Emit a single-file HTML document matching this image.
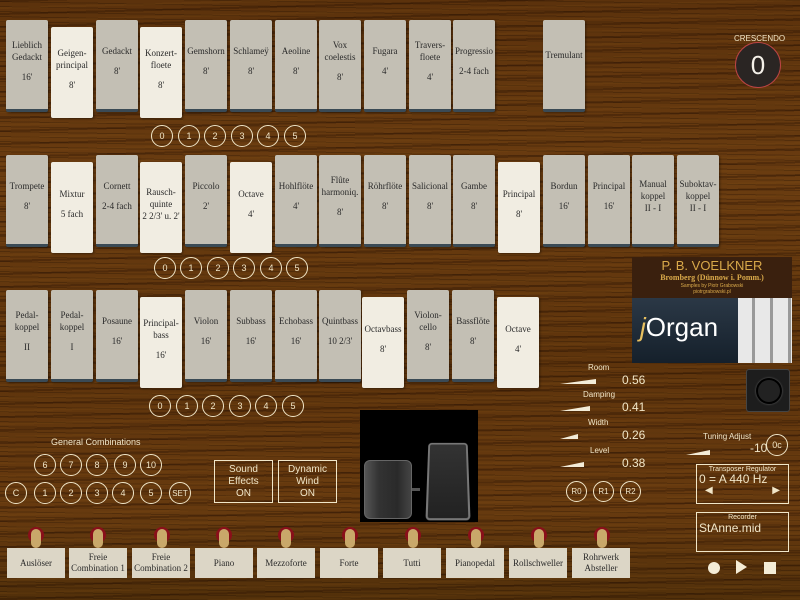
<!DOCTYPE html>
<html><head><meta charset="utf-8"><style>
*{margin:0;padding:0;box-sizing:border-box}
body{width:800px;height:600px;overflow:hidden;position:relative;font-family:"Liberation Sans",sans-serif;
background:
repeating-linear-gradient(178.5deg,rgba(30,10,0,.3) 0 2px,rgba(0,0,0,0) 2px 7px,rgba(130,80,20,.18) 7px 9px,rgba(0,0,0,0) 9px 13px),
repeating-linear-gradient(181deg,rgba(20,8,0,.25) 0 1px,rgba(0,0,0,0) 1px 5px),
linear-gradient(180deg,#5c320c,#6a3c10 30%,#5e340c 60%,#673a0f 85%,#52300a);}
.s{position:absolute;width:42px;height:92px;background:#c3bfb4;border-bottom:3px solid #3a4a55;border-radius:2px;
display:flex;flex-direction:column;justify-content:center;align-items:center;text-align:center;padding-bottom:8px;
font-family:"Liberation Serif",serif;font-size:9px;line-height:12px;color:#2a2a2a;box-shadow:1px 1px 2px rgba(0,0,0,.4)}
.s.w{background:#f1ede2;border-bottom:none;height:91px}
.s b{font-weight:normal;display:block;margin-top:8px}
.c{position:absolute;width:22px;height:22px;border:1.5px solid #f1e6c8;border-radius:50%;color:#f1e6c8;font-size:9px;
display:flex;align-items:center;justify-content:center}
.t{position:absolute;color:#f1e6c8;font-size:8px}
.v{position:absolute;color:#f1e6c8;font-size:12px}
.sl{position:absolute;height:0;border-bottom:5px solid #f3ecd8;border-left:36px solid transparent}
.bx{position:absolute;border:1.5px solid #f1e6c8;color:#f1e6c8;text-align:center}
.p{position:absolute;top:548px;width:58px;height:30px;background:#dcd6c6;font-family:"Liberation Serif",serif;font-size:9px;
line-height:11px;color:#2a2a2a;display:flex;align-items:center;justify-content:center;text-align:center}
.tg{position:absolute;top:527px;width:16px;height:16px;border-radius:50%;background:#8a0f1a}
.tg::after{content:"";position:absolute;left:3px;top:2px;width:10px;height:19px;border-radius:5px;background:#c9a86a}
</style></head><body>

<!-- Row 1 -->
<div class="s" style="left:6px;top:20px">Lieblich<br>Gedackt<b>16'</b></div>
<div class="s w" style="left:51px;top:27px">Geigen-<br>principal<b>8'</b></div>
<div class="s" style="left:96px;top:20px">Gedackt<b>8'</b></div>
<div class="s w" style="left:140px;top:27px">Konzert-<br>floete<b>8'</b></div>
<div class="s" style="left:185px;top:20px">Gemshorn<b>8'</b></div>
<div class="s" style="left:230px;top:20px">Schlameÿ<b>8'</b></div>
<div class="s" style="left:275px;top:20px">Aeoline<b>8'</b></div>
<div class="s" style="left:319px;top:20px">Vox<br>coelestis<b>8'</b></div>
<div class="s" style="left:364px;top:20px">Fugara<b>4'</b></div>
<div class="s" style="left:409px;top:20px">Travers-<br>floete<b>4'</b></div>
<div class="s" style="left:453px;top:20px">Progressio<b>2-4 fach</b></div>
<div class="s" style="left:543px;top:20px;padding-bottom:20px">Tremulant</div>

<div class="c" style="left:151px;top:125px">0</div><div class="c" style="left:178px;top:125px">1</div><div class="c" style="left:204px;top:125px">2</div><div class="c" style="left:231px;top:125px">3</div><div class="c" style="left:257px;top:125px">4</div><div class="c" style="left:284px;top:125px">5</div>

<!-- Row 2 -->
<div class="s" style="left:6px;top:155px">Trompete<b>8'</b></div>
<div class="s w" style="left:51px;top:162px">Mixtur<b>5 fach</b></div>
<div class="s" style="left:96px;top:155px">Cornett<b>2-4 fach</b></div>
<div class="s w" style="left:140px;top:162px">Rausch-<br>quinte<br>2 2/3' u. 2'</div>
<div class="s" style="left:185px;top:155px">Piccolo<b>2'</b></div>
<div class="s w" style="left:230px;top:162px">Octave<b>4'</b></div>
<div class="s" style="left:275px;top:155px">Hohlflöte<b>4'</b></div>
<div class="s" style="left:319px;top:155px">Flûte<br>harmoniq.<b>8'</b></div>
<div class="s" style="left:364px;top:155px">Röhrflöte<b>8'</b></div>
<div class="s" style="left:409px;top:155px">Salicional<b>8'</b></div>
<div class="s" style="left:453px;top:155px">Gambe<b>8'</b></div>
<div class="s w" style="left:498px;top:162px">Principal<b>8'</b></div>
<div class="s" style="left:543px;top:155px">Bordun<b>16'</b></div>
<div class="s" style="left:588px;top:155px">Principal<b>16'</b></div>
<div class="s" style="left:632px;top:155px">Manual<br>koppel<br>II - I</div>
<div class="s" style="left:677px;top:155px">Suboktav-<br>koppel<br>II - I</div>

<div class="c" style="left:154px;top:257px">0</div><div class="c" style="left:180px;top:257px">1</div><div class="c" style="left:207px;top:257px">2</div><div class="c" style="left:233px;top:257px">3</div><div class="c" style="left:260px;top:257px">4</div><div class="c" style="left:286px;top:257px">5</div>

<!-- Row 3 -->
<div class="s" style="left:6px;top:290px">Pedal-<br>koppel<b>II</b></div>
<div class="s" style="left:51px;top:290px">Pedal-<br>koppel<b>I</b></div>
<div class="s" style="left:96px;top:290px">Posaune<b>16'</b></div>
<div class="s w" style="left:140px;top:297px">Principal-<br>bass<b>16'</b></div>
<div class="s" style="left:185px;top:290px">Violon<b>16'</b></div>
<div class="s" style="left:230px;top:290px">Subbass<b>16'</b></div>
<div class="s" style="left:275px;top:290px">Echobass<b>16'</b></div>
<div class="s" style="left:319px;top:290px">Quintbass<b>10 2/3'</b></div>
<div class="s w" style="left:362px;top:297px">Octavbass<b>8'</b></div>
<div class="s" style="left:407px;top:290px">Violon-<br>cello<b>8'</b></div>
<div class="s" style="left:452px;top:290px">Bassflöte<b>8'</b></div>
<div class="s w" style="left:497px;top:297px">Octave<b>4'</b></div>

<div class="c" style="left:149px;top:395px">0</div><div class="c" style="left:176px;top:395px">1</div><div class="c" style="left:202px;top:395px">2</div><div class="c" style="left:229px;top:395px">3</div><div class="c" style="left:255px;top:395px">4</div><div class="c" style="left:282px;top:395px">5</div>

<!-- Crescendo -->
<div class="t" style="left:734px;top:34px;font-size:8px">CRESCENDO</div>
<div style="position:absolute;left:735px;top:42px;width:46px;height:46px;border-radius:50%;background:#2a2523;border:1px solid #b44;color:#f4f0e8;font-size:26px;display:flex;align-items:center;justify-content:center">0</div>

<!-- Plaque -->
<div style="position:absolute;left:632px;top:257px;width:160px;height:41px;background:#3a200e;color:#d9a94a;text-align:center;font-family:'Liberation Serif',serif">
<div style="font-family:'Liberation Sans',sans-serif;font-size:13px;line-height:14px;margin-top:2px">P. B. VOELKNER</div>
<div style="font-size:8px;font-weight:bold;line-height:10px">Bromberg (Dünnow i. Pomm.)</div>
<div style="font-family:'Liberation Sans';font-size:5px;line-height:6px">Samples by Piotr Grabowski<br>piotrgrabowski.pl</div></div>
<div style="position:absolute;left:632px;top:298px;width:160px;height:65px;background:linear-gradient(#2b3846,#15202b)">
<div style="position:absolute;left:8px;top:14px;color:#fff;font-size:26px"><i style="color:#e8c060">j</i>Organ</div>
<div style="position:absolute;left:106px;top:0;width:54px;height:65px;background:repeating-linear-gradient(90deg,#e8e8e8 0 14px,#999 14px 17px,#e8e8e8 17px 18px)"></div></div>
<div style="position:absolute;left:746px;top:369px;width:44px;height:43px;background:#1d1d1d;border:1px solid #444;border-radius:3px"><div style="position:absolute;left:9px;top:8px;width:26px;height:26px;border-radius:50%;background:#222;border:2px solid #000;box-shadow:0 0 2px #666"></div></div>

<!-- Sliders -->
<div class="t" style="left:588px;top:363px">Room</div><div class="sl" style="left:560px;top:379px"></div><div class="v" style="left:622px;top:373px">0.56</div>
<div class="t" style="left:583px;top:390px">Damping</div><div class="sl" style="left:560px;top:406px;border-left-width:30px"></div><div class="v" style="left:622px;top:400px">0.41</div>
<div class="t" style="left:588px;top:418px">Width</div><div class="sl" style="left:560px;top:434px;border-left-width:18px"></div><div class="v" style="left:622px;top:428px">0.26</div>
<div class="t" style="left:590px;top:446px">Level</div><div class="sl" style="left:560px;top:462px;border-left-width:24px"></div><div class="v" style="left:622px;top:456px">0.38</div>
<div class="c" style="left:566px;top:481px;width:21px;height:21px;font-size:8px">R0</div><div class="c" style="left:593px;top:481px;width:21px;height:21px;font-size:8px">R1</div><div class="c" style="left:620px;top:481px;width:21px;height:21px;font-size:8px">R2</div>

<!-- Tuning etc -->
<div class="t" style="left:703px;top:432px">Tuning Adjust</div>
<div class="sl" style="left:686px;top:450px;border-left-width:24px"></div>
<div class="v" style="left:750px;top:441px">-10</div>
<div class="c" style="left:766px;top:434px;width:22px;height:22px">0c</div>
<div class="bx" style="left:696px;top:464px;width:93px;height:40px"><div style="font-size:7px;margin-top:1px">Transposer Regulator</div><div style="font-size:12px;text-align:left;padding-left:2px;line-height:12px">0 = A 440 Hz</div><div style="font-size:10px;display:flex;justify-content:space-between;padding:0 8px;line-height:12px"><span>◀</span><span>▶</span></div></div>
<div class="bx" style="left:696px;top:512px;width:93px;height:40px"><div style="font-size:7px;margin-top:1px">Recorder</div><div style="font-size:12px;text-align:left;padding-left:2px">StAnne.mid</div></div>
<div style="position:absolute;left:708px;top:562px;width:12px;height:12px;border-radius:50%;background:#f4ecd6"></div>
<div style="position:absolute;left:736px;top:560px;border-left:11px solid #f4ecd6;border-top:7px solid transparent;border-bottom:7px solid transparent"></div>
<div style="position:absolute;left:764px;top:562px;width:12px;height:12px;background:#f4ecd6"></div>

<!-- General combos -->
<div class="t" style="left:51px;top:437px;font-size:9px">General Combinations</div>
<div class="c" style="left:34px;top:454px">6</div><div class="c" style="left:60px;top:454px">7</div><div class="c" style="left:86px;top:454px">8</div><div class="c" style="left:114px;top:454px">9</div><div class="c" style="left:140px;top:454px">10</div>
<div class="c" style="left:5px;top:482px">C</div><div class="c" style="left:34px;top:482px">1</div><div class="c" style="left:60px;top:482px">2</div><div class="c" style="left:86px;top:482px">3</div><div class="c" style="left:112px;top:482px">4</div><div class="c" style="left:140px;top:482px">5</div><div class="c" style="left:169px;top:482px;font-size:8px">SET</div>
<div class="bx" style="left:214px;top:460px;width:59px;height:43px;font-size:10px;line-height:12px;padding-top:3px">Sound<br>Effects<br>ON</div>
<div class="bx" style="left:278px;top:460px;width:59px;height:43px;font-size:10px;line-height:12px;padding-top:3px">Dynamic<br>Wind<br>ON</div>

<!-- Pedals -->
<div style="position:absolute;left:360px;top:410px;width:118px;height:112px;background:#000">
<div style="position:absolute;left:4px;top:50px;width:48px;height:59px;border-radius:6px;background:linear-gradient(90deg,#555,#333 30%,#2a2a2a 70%,#444);border:1px solid #666"></div>
<div style="position:absolute;left:52px;top:78px;width:8px;height:3px;background:#555"></div>
<div style="position:absolute;left:67px;top:30px;width:42px;height:78px;border:2px solid #777;border-radius:4px;background:linear-gradient(#333,#222);transform:perspective(80px) rotateX(8deg)"></div></div>

<!-- Pistons -->
<div class="tg" style="left:28px"></div><div class="p" style="left:7px">Auslöser</div>
<div class="tg" style="left:90px"></div><div class="p" style="left:69px">Freie<br>Combination 1</div>
<div class="tg" style="left:154px"></div><div class="p" style="left:132px">Freie<br>Combination 2</div>
<div class="tg" style="left:216px"></div><div class="p" style="left:195px">Piano</div>
<div class="tg" style="left:278px"></div><div class="p" style="left:257px">Mezzoforte</div>
<div class="tg" style="left:342px"></div><div class="p" style="left:320px">Forte</div>
<div class="tg" style="left:405px"></div><div class="p" style="left:383px">Tutti</div>
<div class="tg" style="left:468px"></div><div class="p" style="left:446px">Pianopedal</div>
<div class="tg" style="left:531px"></div><div class="p" style="left:509px">Rollschweller</div>
<div class="tg" style="left:594px"></div><div class="p" style="left:572px">Rohrwerk<br>Absteller</div>
</body></html>
